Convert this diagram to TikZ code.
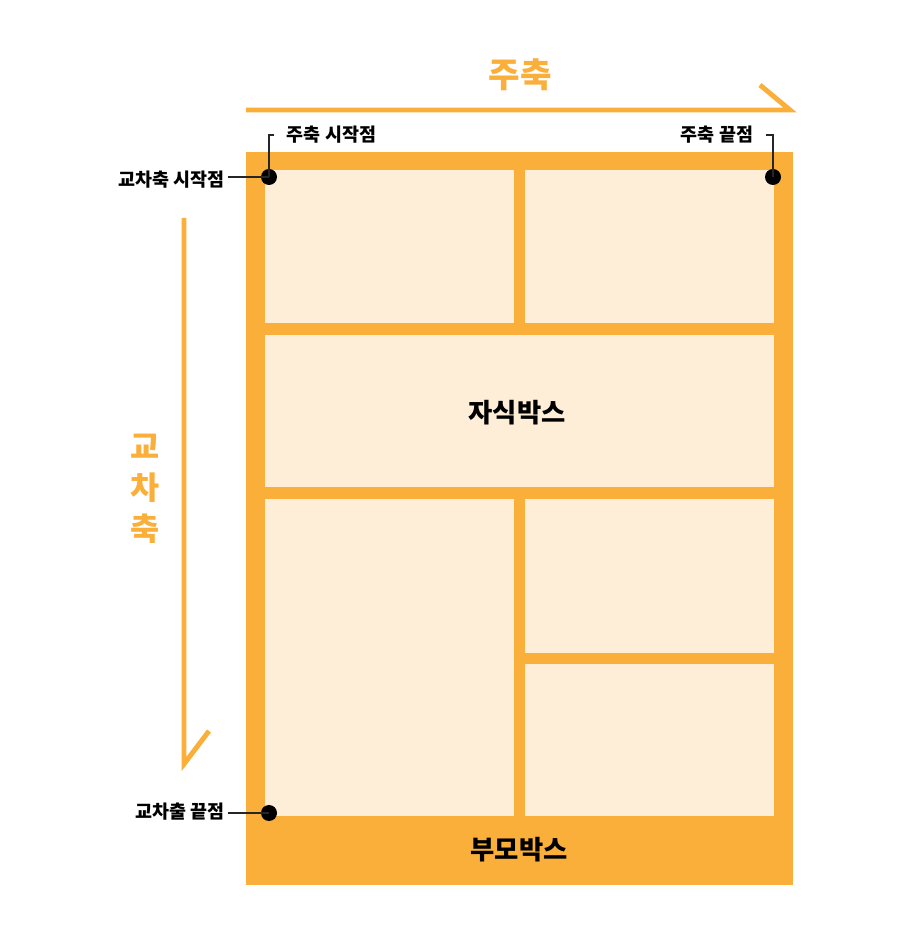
\documentclass[tikz,border=0pt]{standalone}
\usepackage{fontspec}
\newfontfamily\kr{Noto Sans CJK KR}
\usepackage{tikz}
\definecolor{parentorange}{RGB}{251,175,59}
\definecolor{childcream}{RGB}{254,238,216}
\tikzset{childbox/.style={fill=childcream,draw=none,inner sep=0pt,anchor=south west}}
\tikzset{dot/.style={circle,fill=black,inner sep=0pt,minimum size=0.32cm}}
\tikzset{lbl/.style={font=\kr\bfseries\fontsize{10.5}{12}\selectfont,inner sep=1.5pt}}
\tikzset{leader/.style={draw=black!85,line width=0.6pt}}
\tikzset{axis/.style={draw=parentorange,line width=2.8pt}}
\tikzset{axislbl/.style={text=parentorange,font=\kr\bfseries\fontsize{19.5}{22}\selectfont}}
\tikzset{boxlbl/.style={font=\kr\bfseries\fontsize{15}{17}\selectfont}}
\begin{document}
\begin{tikzpicture}
  \useasboundingbox (0,0) rectangle (18.22,18.9);
  % parent and children
  \node[fill=parentorange,inner sep=0pt,anchor=south west,minimum width=10.94cm,minimum height=14.66cm] (parent) at (4.92,1.2) {};
  \node[childbox,minimum width=4.98cm,minimum height=3.06cm] (c1) at (5.3,12.44) {};
  \node[childbox,minimum width=4.98cm,minimum height=3.06cm] (c2) at (10.5,12.44) {};
  \node[childbox,minimum width=10.18cm,minimum height=3.04cm] (c3) at (5.3,9.16) {};
  \node[childbox,minimum width=4.98cm,minimum height=6.34cm] (c4) at (5.3,2.58) {};
  \node[childbox,minimum width=4.98cm,minimum height=3.08cm] (c5) at (10.5,5.84) {};
  \node[childbox,minimum width=4.98cm,minimum height=3.04cm] (c6) at (10.5,2.58) {};
  \node[boxlbl] (childtxt) at (10.34,10.64) {자식박스};
  \node[boxlbl] (parenttxt) at (10.38,1.9) {부모박스};
  % main axis
  \coordinate (m0) at (4.92,16.7);
  \coordinate (m1) at (15.8,16.7);
  \coordinate (mh) at (15.2,17.2);
  \draw[axis] (m0) -- (m1) -- (mh);
  \node[axislbl] (mainlbl) at (10.4,17.4) {주축};
  % cross axis
  \coordinate (x0) at (3.68,14.54);
  \coordinate (x1) at (3.68,3.62);
  \coordinate (xh) at (4.18,4.28);
  \draw[axis] (x0) -- (x1) -- (xh);
  \node[axislbl,align=center,font=\kr\bfseries\fontsize{18}{23.2}\selectfont] (crosslbl) at (2.9,9.12) {교\\차\\축};
  % points
  \node[dot] (ms) at (5.38,15.36) {};
  \node[dot] (me) at (15.46,15.36) {};
  \node[dot] (cs) at (5.38,2.64) {};
  \node[lbl,anchor=east] (cslbl) at (4.55,15.3) {교차축 시작점};
  \node[lbl,anchor=east] (celbl) at (4.55,2.66) {교차출 끝점};
  \node[lbl,anchor=west] (mslbl) at (5.68,16.2) {주축 시작점};
  \node[lbl,anchor=east] (melbl) at (15.12,16.2) {주축 끝점};
  \draw[leader] (ms.center) |- ([xshift=-0.2cm]mslbl.west);
  \draw[leader] (me.center) |- ([xshift=0.2cm]melbl.east);
  \draw[leader] (cslbl.east |- ms) -- (ms.center);
  \draw[leader] (celbl.east |- cs) -- (cs.center);
\end{tikzpicture}
\end{document}
